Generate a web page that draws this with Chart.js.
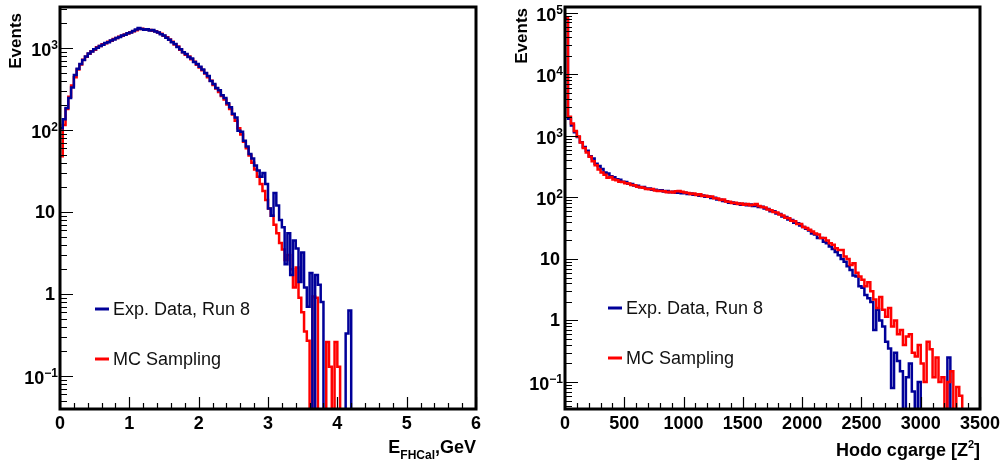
<!DOCTYPE html>
<html>
<head>
<meta charset="utf-8">
<script src="https://cdn.jsdelivr.net/npm/chart.js@4.4.1/dist/chart.umd.min.js"></script>
<style>
html,body{margin:0;padding:0;background:#fff;}
#wrap{position:relative;width:1003px;height:461px;overflow:hidden;background:#fff;}
#cL{position:absolute;left:0;top:0;}
#cR{position:absolute;left:500px;top:0;}
</style>
</head>
<body>
<div id="wrap">
<canvas id="cL" width="500" height="461"></canvas>
<canvas id="cR" width="503" height="461"></canvas>
</div>
<script>
// ---------------- DATA ----------------
// Left panel: E_FHCal histogram, bins of 0.04 GeV starting at 0
const leftBinStart = 0;
const leftBinWidth = 0.04;
const dataL = [105,135,185,245,330,470,560,640,715,790,855,905,965,1010,1055,1095,1150,1175,1235,1270,
  1325,1360,1420,1455,1510,1540,1610,1680,1750,1700,1665,1690,1640,1655,1585,1545,1470,1420,1335,1260,
  1175,1115,1030,965,885,845,775,745,675,640,590,545,495,455,395,365,325,305,265,245,
  212,190,158,142,98,95,74,63,51,45,37,32,27,30,22,11,9,17,12,8,
  6.5,2.3,5.5,1.7,4.5,3.6,1.4,3.2,1.2,0.7,1.8,0,1.7,1.3,0.8,0,0,0,0,0,
  0,0,0,0.33,0.63];
const mcL = [48,115,180,255,350,440,545,630,720,780,850,915,955,1020,1060,1110,1140,1190,1230,1285,
  1320,1375,1410,1465,1500,1555,1600,1650,1700,1720,1690,1670,1660,1620,1600,1540,1490,1410,1350,1270,
  1190,1100,1040,950,890,830,790,730,680,625,580,535,490,440,400,355,320,290,260,235,
  205,180,155,130,105,88,72,60,49,40,33,27,22,18,14,11,9,7,5.5,4.2,
  3.5,2.6,3.0,2.0,1.2,2.1,0.9,0.6,0.35,0.27,0,0.93,0.9,0,0,0,0.26,0.13,0,0.26,
  0.13,0,0,0,0];

// Right panel: Hodo charge histogram, bins of 25 starting at 0
const rightBinStart = 0;
const rightBinWidth = 25;
const dataR = [80000,1900,1480,1150,960,790,660,575,470,430,355,325,290,255,245,222,214,198,194,181,
  178,167,166,156,155,147,148,140,140,134,134,129,131,125,127,122,124,119,121,117,
  119,114,116,111,112,107,108,103,104,98,99,93,92,88,87,82,83,79,80,76,
  78,75,77,73,74,70,71,66,65,60,60,55,54,49,48,44,43,39,38,35,
  33,31,29,26,25,22,22,19,18,16,14.5,13,11.5,10,9,7.6,6.6,5.4,5.2,3.6,
  3.4,2.6,2.3,2.0,0.7,1.5,1.0,0.8,0.45,0.35,0.08,0.3,0.22,0.15,0,0.12,0.2,0.07,0,0.1,
  0,0,0,0,0,0,0,0,0,0.25,0,0,0,0];
const mcR = [85000,2050,1600,1200,980,780,640,540,460,390,335,285,255,235,210,215,196,190,180,178,
  170,168,160,158,150,146,144,138,136,137,130,128,127,126,122,124,120,126,128,124,
  121,118,114,116,110,113,106,107,103,104,97,96,91,93,86,85,81,82,78,80,
  76,78,75,76,78,73,70,69,64,62,58,57,53,51,47,46,42,41,37,37,
  33,32,30,28,26,25,22,22,20,18,17,15,14,14,11,10,8,8.5,6,5.2,
  4.6,3.6,4.2,3.0,2.2,1.6,2.4,1.5,1.15,1.6,0.8,1.0,0.6,0.7,0.4,0.55,0.6,0.3,0.26,0.4,
  0.2,0.1,0.45,0.34,0.12,0.25,0.1,0.12,0,0.1,0.15,0,0.083,0.06];

// Axis ticks and labels
const xTicksL = [0,1,2,3,4,5,6];
const xTickLabelsL = ['0','1','2','3','4','5','6'];
const yTicksL = [0.1,1,10,100,1000];
const yTickLabelsL = [['10','\u22121'],['1',''],['10',''],['10','2'],['10','3']];
const xTicksR = [0,500,1000,1500,2000,2500,3000,3500];
const xTickLabelsR = ['0','500','1000','1500','2000','2500','3000','3500'];
const yTicksR = [0.1,1,10,100,1000,10000,100000];
const yTickLabelsR = [['10','\u22121'],['1',''],['10',''],['10','2'],['10','3'],['10','4'],['10','5']];
const seriesNames = ['Exp. Data, Run 8','MC Sampling'];
const yTitle = 'Events';

// ---------------- RENDER ----------------
const FONT = '"Liberation Sans", Arial, Helvetica, sans-serif';
const BLUE = '#000099';
const RED = '#ff0000';
const FLOOR = 1e-6; // empty bins fall below the axis

function toSteps(values, start, width) {
  const pts = values.map((v, i) => ({x: start + i * width, y: v > 0 ? v : FLOOR}));
  pts.push({x: start + values.length * width, y: FLOOR});
  return pts;
}

function panelPlugin(cfg) {
  return {
    id: 'rootPanel',
    afterDraw(chart) {
      const ctx = chart.ctx, a = chart.chartArea, xs = chart.scales.x, ys = chart.scales.y;
      ctx.save();
      // ticks
      ctx.strokeStyle = '#000';
      ctx.lineWidth = 1.2;
      ctx.beginPath();
      const kLo = Math.floor(Math.log10(ys.min)), kHi = Math.ceil(Math.log10(ys.max));
      for (let k = kLo; k <= kHi; k++) {
        for (let m = 1; m <= 9; m++) {
          const v = m * Math.pow(10, k);
          if (v < ys.min || v > ys.max) continue;
          const py = Math.round(ys.getPixelForValue(v)) + 0.5;
          const len = m === 1 ? 13 : 7;
          ctx.moveTo(a.left, py); ctx.lineTo(a.left + len, py);
        }
      }
      const nMinor = Math.round((xs.max - xs.min) / cfg.xMinor);
      for (let i = 0; i <= nMinor; i++) {
        const v = xs.min + i * cfg.xMinor;
        const px = Math.round(xs.getPixelForValue(v)) + 0.5;
        const isMajor = cfg.xTicks.some(t => Math.abs(t - v) < cfg.xMinor * 0.01);
        const len = isMajor ? 12 : 6;
        ctx.moveTo(px, a.bottom); ctx.lineTo(px, a.bottom - len);
      }
      ctx.stroke();
      // frame
      ctx.lineWidth = 3;
      ctx.strokeRect(a.left, a.top, a.right - a.left, a.bottom - a.top);

      // x tick labels
      ctx.fillStyle = '#000';
      ctx.font = 'bold 18px ' + FONT;
      ctx.textAlign = 'center';
      ctx.textBaseline = 'alphabetic';
      cfg.xTicks.forEach((t, i) => {
        ctx.fillText(cfg.xLabels[i], xs.getPixelForValue(t), a.bottom + 20);
      });
      // y tick labels
      cfg.yTicks.forEach((t, i) => {
        const [base, sup] = cfg.yLabels[i];
        const py = ys.getPixelForValue(t);
        if (!sup) {
          ctx.font = 'bold 18px ' + FONT;
          ctx.textAlign = 'right';
          ctx.fillText(base, a.left - 5, py + 6);
        } else {
          ctx.font = 'bold 12px ' + FONT;
          const ws = ctx.measureText(sup).width;
          const right = a.left - 2;
          ctx.textAlign = 'left';
          ctx.fillText(sup, right - ws, py + 1);
          ctx.font = 'bold 18px ' + FONT;
          ctx.textAlign = 'right';
          ctx.fillText(base, right - ws, py + 8);
        }
      });
      // y title
      ctx.save();
      ctx.translate(cfg.yTitleX, cfg.yTitleTop);
      ctx.rotate(-Math.PI / 2);
      ctx.font = 'bold 17px ' + FONT;
      ctx.textAlign = 'right';
      ctx.fillText(yTitle, 0, 0);
      ctx.restore();
      // x title (parts: [text, size, baselineOffset])
      ctx.textAlign = 'left';
      let total = 0;
      cfg.xTitle.forEach(p => { ctx.font = 'bold ' + p[1] + 'px ' + FONT; p.w = ctx.measureText(p[0]).width; total += p.w; });
      let cx = a.right - total;
      cfg.xTitle.forEach(p => {
        ctx.font = 'bold ' + p[1] + 'px ' + FONT;
        ctx.fillText(p[0], cx, cfg.xTitleBase + p[2]);
        cx += p.w;
      });
      // legend
      ctx.font = '18px ' + FONT;
      ctx.fillStyle = '#111';
      cfg.legend.forEach((e, i) => {
        ctx.strokeStyle = e.color;
        ctx.lineWidth = 3;
        ctx.beginPath();
        ctx.moveTo(cfg.legX, e.y); ctx.lineTo(cfg.legX + 14, e.y);
        ctx.stroke();
        ctx.fillText(e.text, cfg.legX + 18, e.y + 6);
      });
      ctx.restore();
    }
  };
}

function makeChart(id, cfg) {
  return new Chart(document.getElementById(id), {
    type: 'line',
    data: {
      datasets: cfg.datasets.map(d => ({
        label: d.label,
        data: d.data,
        borderColor: d.color,
        backgroundColor: d.color,
        borderWidth: 2.5,
        stepped: true,
        fill: false,
        pointRadius: 0,
        borderJoinStyle: 'miter',
        order: d.order
      }))
    },
    options: {
      responsive: false,
      animation: false,
      events: [],
      layout: {padding: cfg.padding},
      plugins: {legend: {display: false}, tooltip: {enabled: false}},
      elements: {line: {tension: 0}},
      scales: {
        x: {type: 'linear', min: cfg.xMin, max: cfg.xMax, display: false},
        y: {type: 'logarithmic', min: cfg.yMin, max: cfg.yMax, display: false}
      }
    },
    plugins: [panelPlugin(cfg)]
  });
}

makeChart('cL', {
  padding: {left: 60, right: 24, top: 7, bottom: 52},
  xMin: 0, xMax: 6, yMin: 0.0396, yMax: 3162,
  datasets: [
    {label: seriesNames[1], data: toSteps(mcL, leftBinStart, leftBinWidth), color: RED, order: 1},
    {label: seriesNames[0], data: toSteps(dataL, leftBinStart, leftBinWidth), color: BLUE, order: 0}
  ],
  xTicks: xTicksL, xLabels: xTickLabelsL, xMinor: 0.2,
  yTicks: yTicksL, yLabels: yTickLabelsL,
  yTitleX: 21, yTitleTop: 13,
  xTitle: [['E', 18, 0], ['FHCal', 12, 6], [',GeV', 18, 0]], xTitleBase: 453,
  legX: 95,
  legend: [{text: seriesNames[0], color: BLUE, y: 309}, {text: seriesNames[1], color: RED, y: 359}]
});

makeChart('cR', {
  padding: {left: 65, right: 23, top: 7, bottom: 52},
  xMin: 0, xMax: 3500, yMin: 0.0364, yMax: 125000,
  datasets: [
    {label: seriesNames[0], data: toSteps(dataR, rightBinStart, rightBinWidth), color: BLUE, order: 1},
    {label: seriesNames[1], data: toSteps(mcR, rightBinStart, rightBinWidth), color: RED, order: 0}
  ],
  xTicks: xTicksR, xLabels: xTickLabelsR, xMinor: 100,
  yTicks: yTicksR, yLabels: yTickLabelsR,
  yTitleX: 27, yTitleTop: 8,
  xTitle: [['Hodo cgarge [Z', 18, 0], ['2', 11, -8], [']', 18, 0]], xTitleBase: 456,
  legX: 108,
  legend: [{text: seriesNames[0], color: BLUE, y: 308}, {text: seriesNames[1], color: RED, y: 358}]
});
</script>
</body>
</html>
